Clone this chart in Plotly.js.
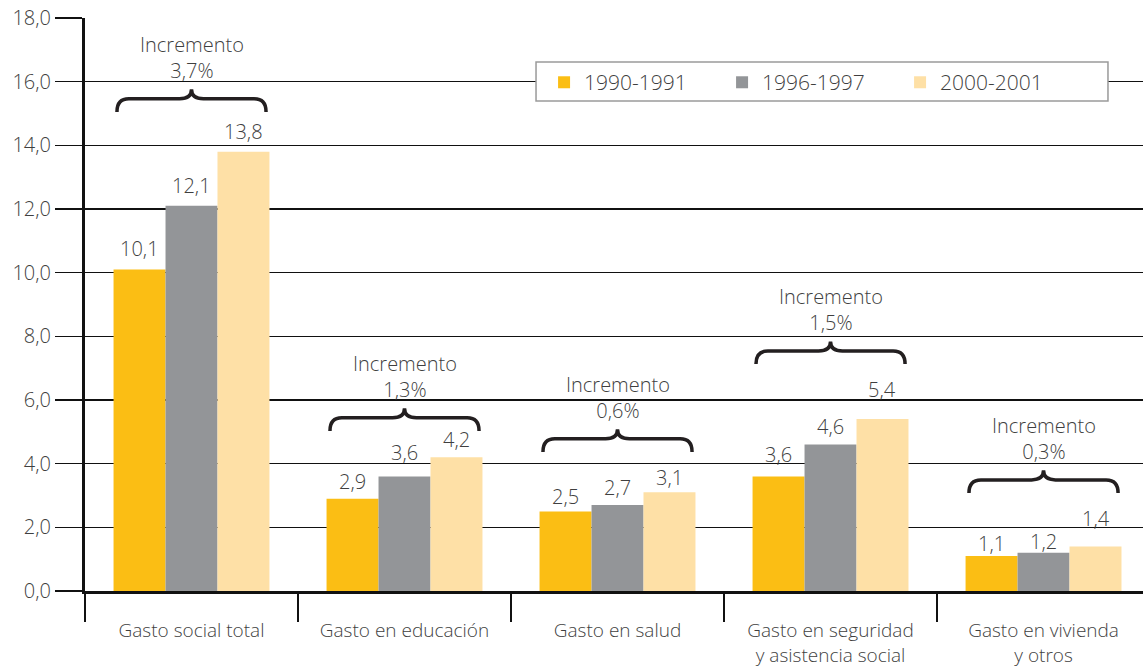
<!DOCTYPE html>
<html>
<head>
<meta charset="utf-8">
<script src="https://cdn.plot.ly/plotly-3.0.1.min.js"></script>
<style>html,body{margin:0;padding:0;background:#fff;}#chart{width:1143px;height:666px;}</style>
</head>
<body>
<div id="chart"></div>
<script>
var categories = ["Gasto social total", "Gasto en educación", "Gasto en salud", "Gasto en seguridad<br>y asistencia social", "Gasto en vivienda<br>y otros"];
var seriesNames = ["1990-1991", "1996-1997", "2000-2001"];
var v1990 = [10.1, 2.9, 2.5, 3.6, 1.1];
var v1996 = [12.1, 3.6, 2.7, 4.6, 1.2];
var v2000 = [13.8, 4.2, 3.1, 5.4, 1.4];
var increments = ["3,7%", "1,3%", "0,6%", "1,5%", "0,3%"];

// layout helpers (positions, not data)
var braceBase = [15.05, 5.03, 4.37, 7.13, 3.08]; // brace foot level (axis units)
var labelGap = [ // px between bar top and label baseline, per series
  [15, 11, 9, 16, 6],
  [14, 18, 12, 12, 5],
  [14, 12, 9, 24, 22]
];

var colors = ["#FBBE14", "#939598", "#FEE0A6"];
var textColor = "#3f3f3f";
var fontFam = "'Open Sans', Lato, sans-serif";
var fontW = 300;
var series = [v1990, v1996, v2000];
var idx = categories.map(function(_, i){ return i; });

var bargap = 0.268;
var barW = (1 - bargap) / 3;

var traces = series.map(function(vals, j){
  return {
    type: "bar", x: idx, y: vals, name: seriesNames[j],
    marker: {color: colors[j], line: {width: 0}},
    hoverinfo: "y"
  };
});

var annotations = [];
series.forEach(function(vals, j){
  vals.forEach(function(v, i){
    annotations.push({
      xref: "x", yref: "y", x: i + (j - 1) * barW, y: v,
      text: v.toFixed(1).replace(".", ","), showarrow: false,
      yanchor: "bottom", yshift: labelGap[j][i] - 9.5,
      font: {family: fontFam, size: 20, color: textColor, weight: fontW}
    });
  });
});

var shapes = [];
var half = 0.35, dx = 0.056, dyH = 0.41, dyT = 0.71;
braceBase.forEach(function(yb, i){
  var x0 = i - half, x1 = i + half, xc = i;
  var yh = yb + dyH, yt = yb + dyT;
  var p = "M" + x0 + "," + yb +
    " Q" + x0 + "," + yh + " " + (x0 + dx) + "," + yh +
    " L" + (xc - dx) + "," + yh +
    " Q" + xc + "," + yh + " " + xc + "," + yt +
    " Q" + xc + "," + yh + " " + (xc + dx) + "," + yh +
    " L" + (x1 - dx) + "," + yh +
    " Q" + x1 + "," + yh + " " + x1 + "," + yb;
  shapes.push({type: "path", xref: "x", yref: "y", path: p,
    line: {color: "#231f20", width: 3.5}});
  annotations.push({
    xref: "x", yref: "y", x: xc, y: yt,
    text: "Incremento<br>" + increments[i], showarrow: false,
    yanchor: "bottom", yshift: 3,
    font: {family: fontFam, size: 20, color: textColor, weight: fontW}
  });
});

// legend frame
shapes.push({type: "rect", xref: "paper", yref: "paper", layer: "above",
  x0: 0.4263, x1: 0.9669, y0: 0.8551, y1: 0.9232,
  fillcolor: "#fff", line: {color: "#9a9a9a", width: 1.5}});

var layout = {
  width: 1143, height: 666,
  margin: {l: 85, r: 0, t: 18, b: 75, autoexpand: false},
  paper_bgcolor: "#fff", plot_bgcolor: "#fff",
  separators: ",.",
  barmode: "group", bargap: bargap, bargroupgap: 0,
  font: {family: fontFam, color: textColor, size: 20, weight: fontW},
  showlegend: true,
  legend: {
    orientation: "h", xref: "paper", yref: "paper",
    x: 0.4339, y: 0.923, xanchor: "left", yanchor: "top",
    bgcolor: "rgba(0,0,0,0)", borderwidth: 0,
    font: {family: fontFam, size: 21, color: textColor, weight: fontW},
    entrywidth: 133, entrywidthmode: "pixels",
    traceorder: "normal"
  },
  xaxis: {
    range: [-0.5, 4.467], tickmode: "array", tickvals: idx, ticktext: categories,
    ticks: "outside", ticklen: 20, tickcolor: "rgba(0,0,0,0)",
    tickfont: {family: fontFam, size: 19, color: textColor, weight: fontW},
    showline: true, linecolor: "#111", linewidth: 3,
    showgrid: false, zeroline: false, fixedrange: true,
    minor: {tick0: -0.5, dtick: 1, ticks: "outside", ticklen: 28, tickwidth: 2, tickcolor: "#111", showgrid: false}
  },
  yaxis: {
    range: [0, 18], dtick: 2, tick0: 0, tickformat: ".1f",
    ticks: "outside", ticklen: 27, tickwidth: 1.5, tickcolor: "#111",
    tickfont: {family: fontFam, size: 20, color: textColor, weight: fontW},
    showgrid: true, gridcolor: "#111", gridwidth: 1.5,
    showline: true, linecolor: "#111", linewidth: 3,
    zeroline: false, fixedrange: true
  },
  shapes: shapes,
  annotations: annotations
};

Plotly.newPlot("chart", traces, layout, {displayModeBar: false, staticPlot: true});
</script>
</body>
</html>
